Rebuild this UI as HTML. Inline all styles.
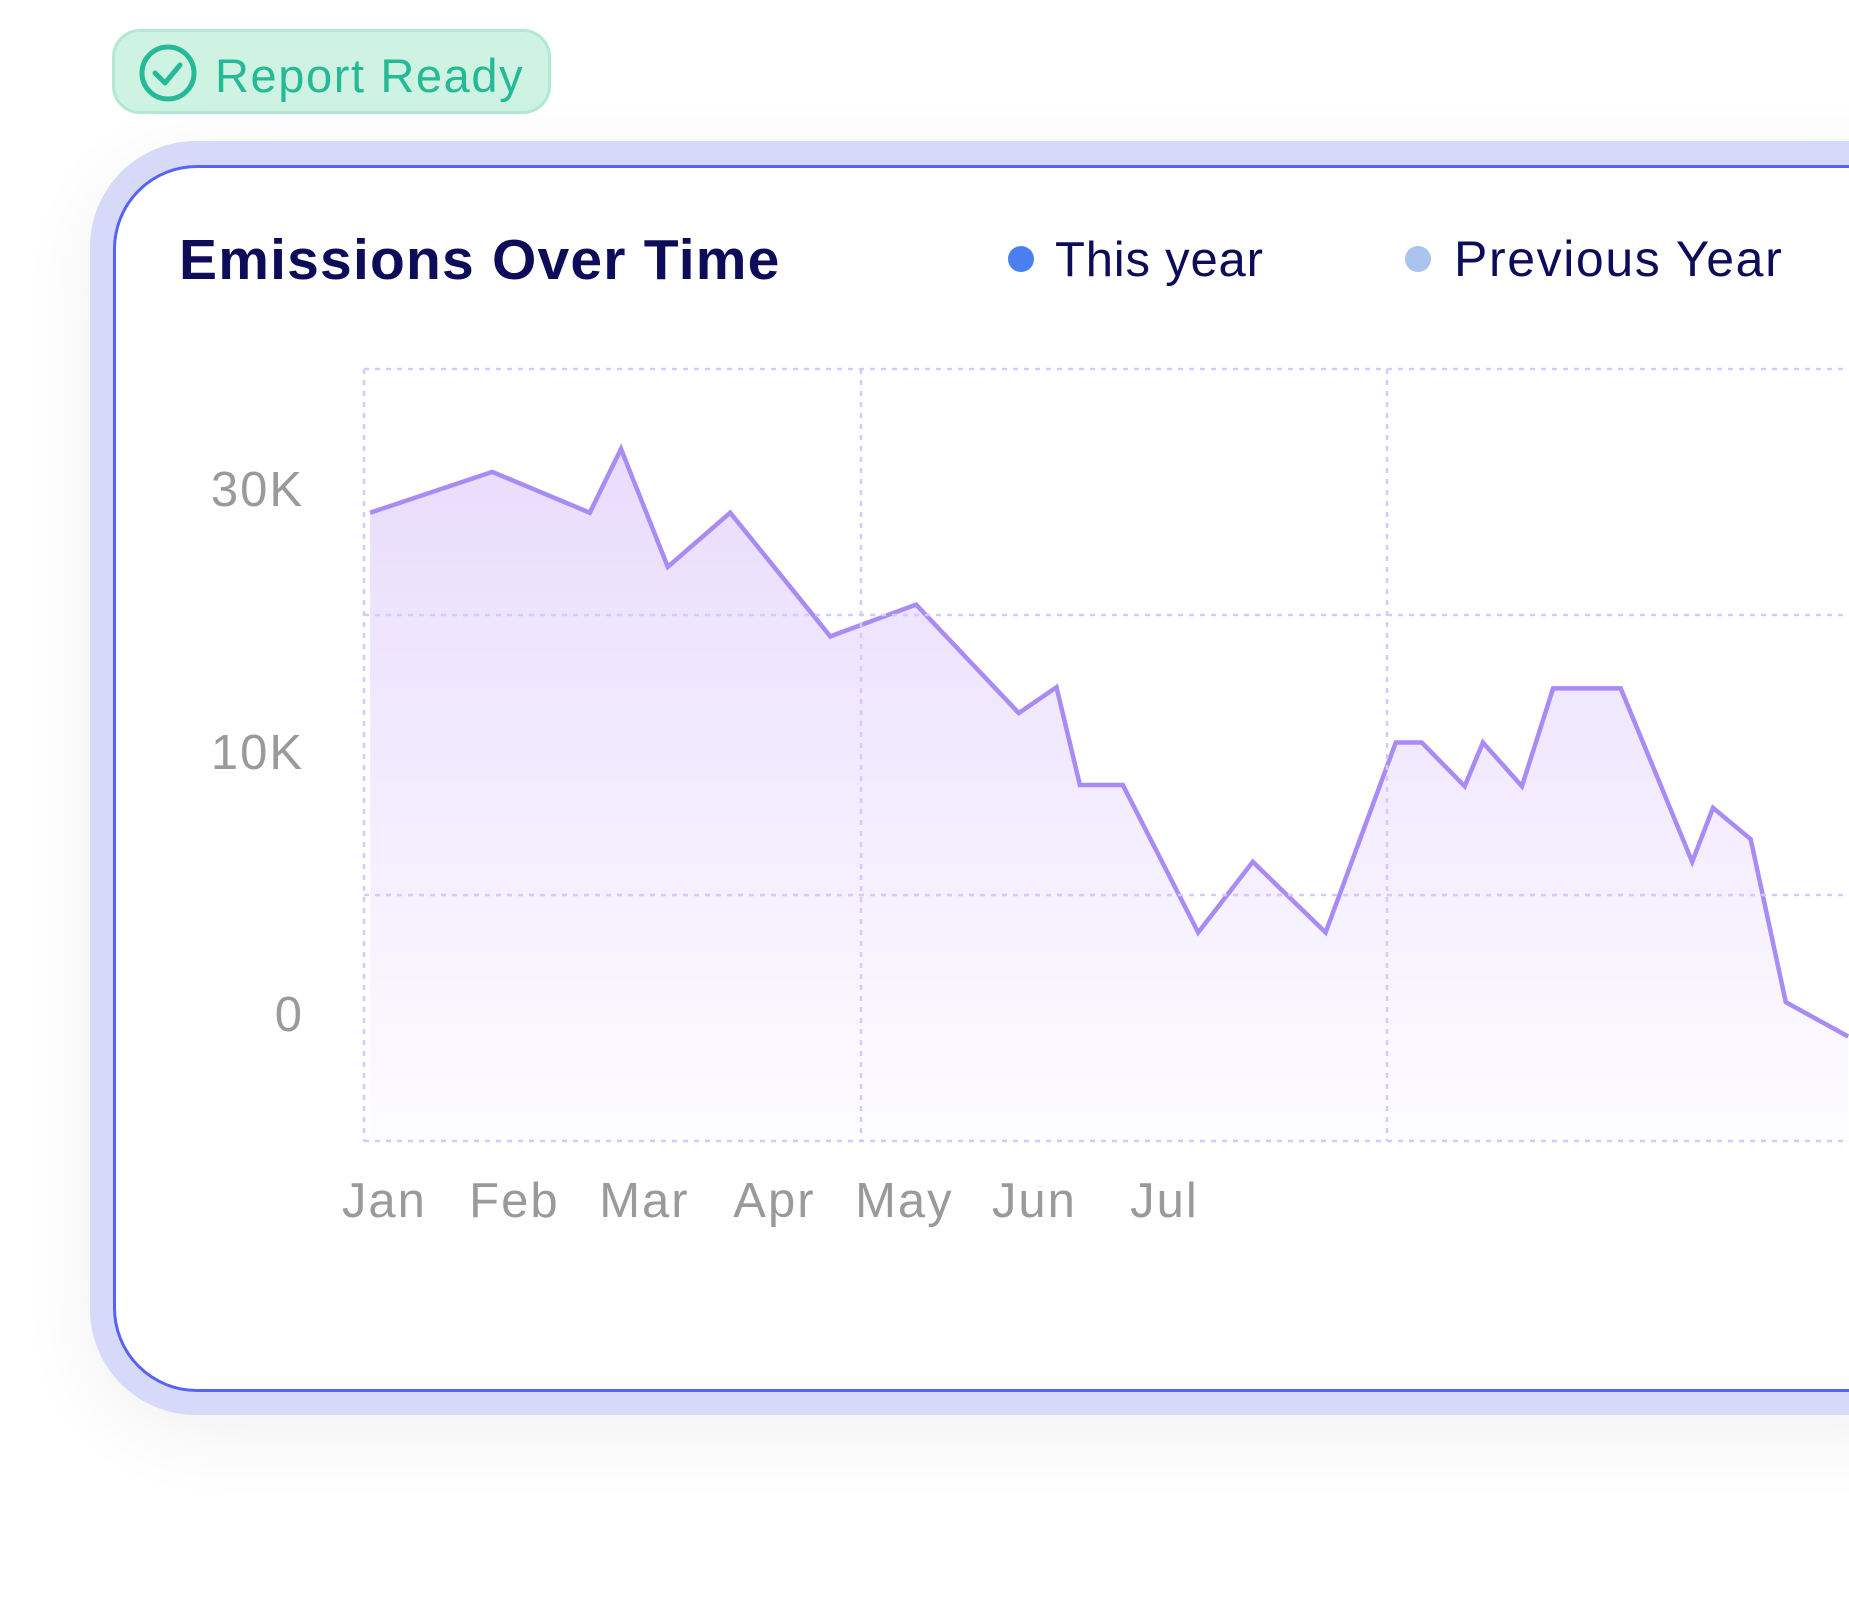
<!DOCTYPE html>
<html><head><meta charset="utf-8"><style>
html,body{margin:0;padding:0;background:#fff;}
body{width:1849px;height:1609px;overflow:hidden;position:relative;font-family:"Liberation Sans",sans-serif;}
.wrap{position:absolute;left:0;top:0;width:1849px;height:1609px;overflow:hidden;}
.badge{position:absolute;left:112px;top:29px;width:439px;height:85px;box-sizing:border-box;border:3px solid #b3e9d4;background:#cff3e3;border-radius:28px;}
.badge span{position:absolute;left:100px;top:16px;font-size:47px;color:#26b996;letter-spacing:1.6px;}
.halo{position:absolute;left:90px;top:141px;width:1900px;height:1274px;background:#d6d9f8;border-radius:106px;box-shadow:0 20px 80px rgba(0,0,0,0.06);}
.card{position:absolute;left:113px;top:165px;width:1900px;height:1227px;box-sizing:border-box;border:3px solid #5663f5;background:#fff;border-radius:84px;}
</style></head><body>
<div class="wrap">
<div class="badge">
<svg width="70" height="70" style="position:absolute;left:20px;top:4px"><circle cx="33" cy="37" r="26" fill="none" stroke="#26b996" stroke-width="5"/><path d="M20 37 L30 47 L45 29" fill="none" stroke="#26b996" stroke-width="5" stroke-linecap="round" stroke-linejoin="round"/></svg>
<span>Report Ready</span></div>
<div class="halo"></div>
<div class="card"></div>
<svg id="chart" width="1849" height="1609" style="position:absolute;left:0;top:0">
<defs><linearGradient id="fillg" x1="0" y1="0" x2="0" y2="1"><stop offset="0" stop-color="#e8dcfc"/><stop offset="1" stop-color="#fdfcff"/></linearGradient></defs>
<text x="179" y="279" font-size="57" font-weight="bold" fill="#0c0c58" letter-spacing="1.2">Emissions Over Time</text>
<g><circle cx="1021" cy="259" r="13" fill="#4a7ff2"/><text x="1055" y="276" font-size="49" letter-spacing="0.8" fill="#0c0c58">This year</text></g>
<g><circle cx="1418" cy="259" r="13" fill="#a9c4ee"/><text x="1454" y="276" font-size="50" letter-spacing="1.6" fill="#0c0c58">Previous Year</text></g>
<g id="plot"></g>
<g id="grid" stroke="#d3cbfb" stroke-width="2.5" stroke-dasharray="5,6" fill="none"></g>
<g id="yticks" font-size="49" fill="#9a9a9a" text-anchor="end" letter-spacing="2"></g>
<g id="xticks" font-size="49" fill="#9a9a9a" text-anchor="middle" letter-spacing="2"></g>
</svg>
</div>
<script>
const months = ["Jan","Feb","Mar","Apr","May","Jun","Jul"];
const yTickValues = [0,10000,30000];
const yTickLabels = ["0","10K","30K"];
const xMonthPos = [-0.11,0.83,1.58,1.82,2.18,2.66,3.43,4.09,4.88,5.17,5.35,5.68,6.26,6.68,7.24,7.78,7.98,8.31,8.45,8.75,8.99,9.51,10.06,10.22,10.51,10.78,11.26];
const emissions = [28200,31300,28200,33050,24080,28200,18790,21210,12960,14930,8740,8740,3110,5810,3110,10720,10720,8690,10720,8690,14840,14840,5810,7870,6670,450,-860];
const NS="http://www.w3.org/2000/svg";
function xScale(m){return 384.4+130.0*m;}
function yScale(v){ if(v<=10000) return 1014-(v/10000)*262; return 752-((v-10000)/20000)*263; }
function el(t,a,p){const e=document.createElementNS(NS,t);for(const k in a)e.setAttribute(k,a[k]);p.appendChild(e);return e;}
const plot=document.getElementById('plot');
let pts=xMonthPos.map((m,i)=>[xScale(m),yScale(emissions[i])]);
let d='M'+pts.map(p=>p[0].toFixed(1)+','+p[1].toFixed(1)).join(' L');
const area=el('path',{d:d+` L${pts[pts.length-1][0]},1141 L${pts[0][0]},1141 Z`,fill:'url(#fillg)'},plot);


const line=el('path',{d:d,fill:'none',stroke:'#a98bf5','stroke-width':4.5,'stroke-linejoin':'miter'},plot);


const grid=document.getElementById('grid');
[369,615,895,1141].forEach(y=>{const l=el('line',{x1:364,x2:1849,y1:y,y2:y},grid);

});
[364,861,1387].forEach(x=>{const l=el('line',{x1:x,x2:x,y1:369,y2:1141},grid);

});
const yt=document.getElementById('yticks');
yTickValues.forEach((v,i)=>{const t=el('text',{x:304,y:yScale(v)+17},yt);t.textContent=yTickLabels[i];

});
const xt=document.getElementById('xticks');
months.forEach((m,i)=>{const t=el('text',{x:xScale(i),y:1217},xt);t.textContent=m;

});
</script>
</body></html>
